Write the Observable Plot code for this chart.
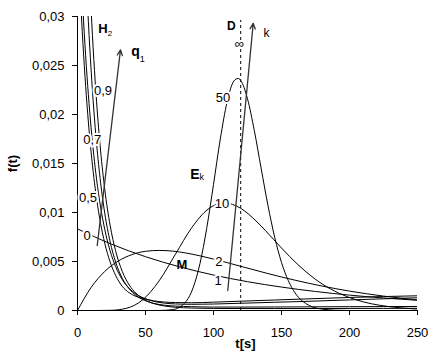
<!DOCTYPE html>
<html><head><meta charset="utf-8">
<script src="https://cdn.jsdelivr.net/npm/d3@7"></script>
<script src="https://cdn.jsdelivr.net/npm/@observablehq/plot@0.6"></script>
<style>html,body{margin:0;padding:0;background:#fff;} #chart svg{display:block}</style>
</head><body><div id="chart"></div>
<script>
// ---- axes ----
const xTicks = [0, 50, 100, 150, 200, 250];
const xTickLabels = ["0", "50", "100", "150", "200", "250"];
const yTicks = [0, 0.005, 0.01, 0.015, 0.02, 0.025, 0.03];
const yTickLabels = ["0", "0,005", "0,01", "0,015", "0,02", "0,025", "0,03"];

// ---- M = E1 = H2(q1=0) ----
const tExp = [0, 25, 50, 75, 100, 125, 150, 175, 200, 225, 250];
const fExp = [0.00833, 0.00677, 0.00549, 0.00446, 0.00362, 0.00294, 0.00239, 0.00194, 0.00157, 0.00128, 0.00104];

// ---- E2 ----
const tE2 = [0, 10, 20, 30, 40, 50, 60, 70, 80, 90, 100, 120, 140, 160, 180, 200, 225, 250];
const fE2 = [0, 0.00235, 0.00398, 0.00505, 0.0057, 0.00604, 0.00613, 0.00606, 0.00586, 0.00558, 0.00525, 0.00451, 0.00377, 0.00309, 0.00249, 0.00198, 0.00147, 0.00108];

// ---- E10 ----
const tE10 = [0, 12, 24, 36, 48, 60, 72, 84, 96, 108, 120, 132, 144, 156, 168, 180, 192, 204, 216, 228, 240, 250];
const fE10 = [0, 0, 0.000016, 0.000225, 0.0011, 0.00302, 0.00574, 0.00845, 0.01034, 0.01098, 0.01043, 0.00904, 0.00728, 0.0055, 0.00395, 0.0027, 0.00178, 0.00113, 0.00069, 0.00042, 0.00024, 0.00015];

// ---- E50 ----
const tE50 = [0, 50, 60, 70, 80, 85, 90, 95, 100, 105, 110, 115, 118, 120, 125, 130, 135, 140, 145, 150, 155, 160, 170, 180, 190, 200, 250];
const fE50 = [0, 0, 0.000003, 0.000089, 0.000955, 0.00232, 0.00476, 0.00838, 0.01286, 0.0175, 0.02129, 0.02342, 0.02368, 0.02347, 0.0216, 0.01837, 0.01453, 0.01075, 0.00747, 0.0049, 0.00305, 0.00179, 0.00054, 0.00014, 0.00003, 0, 0];

// ---- H2 family ----
const tH2 = [0, 2, 4, 6, 8, 10, 12, 14, 17, 20, 24, 28, 33, 38, 43, 49, 56, 64, 72, 84, 100, 120, 145, 168, 200, 250];
const fH2a = [0.03869, 0.03246, 0.02725, 0.02288, 0.01923, 0.01617, 0.0136, 0.01146, 0.00887, 0.00689, 0.00495, 0.00359, 0.00245, 0.00181, 0.00144, 0.0012, 0.00099, 0.00086, 0.00081, 0.00079, 0.00085, 0.00095, 0.00107, 0.00118, 0.00133, 0.0015];
const fH2b = [0.04294, 0.0363, 0.03071, 0.02599, 0.02201, 0.01865, 0.01582, 0.01343, 0.01054, 0.0083, 0.00608, 0.00449, 0.00314, 0.00226, 0.00168, 0.00125, 0.00094, 0.00075, 0.00067, 0.00063, 0.00066, 0.00074, 0.00084, 0.00093, 0.00108, 0.0013];
const fH2c = [0.06134, 0.05104, 0.04248, 0.03537, 0.02946, 0.02454, 0.02046, 0.01707, 0.01303, 0.00996, 0.00701, 0.00496, 0.00327, 0.00221, 0.00154, 0.00105, 0.00073, 0.00054, 0.00045, 0.00039, 0.00035, 0.00035, 0.00036, 0.00037, 0.00039, 0.00041];
const fH2d = [0.07676, 0.06389, 0.05319, 0.0443, 0.03689, 0.03073, 0.02561, 0.02136, 0.01627, 0.01241, 0.00868, 0.0061, 0.00396, 0.00261, 0.00176, 0.00114, 0.00071, 0.00046, 0.00033, 0.00025, 0.00021, 0.0002, 0.0002, 0.0002, 0.00021, 0.00022];

// ---- D (deterministic) ----
const dT = [120];
const dTop = [0.0296];

// ---- arrows (q1, k) ----
const arrowX1 = [14.5, 110.5];
const arrowY1 = [0.00663, 0.00204];
const arrowX2 = [31.6, 129.2];
const arrowY2 = [0.0266, 0.0293];

// ---- curve labels (white background) ----
const numText = ["0,9", "0,7", "0,5", "0", "10", "50", "\u221E", "2", "1"];
const numT = [18.7, 10.8, 7.7, 7.0, 106.3, 107.0, 119.1, 104.0, 103.3];
const numF = [0.02245, 0.01745, 0.01148, 0.00765, 0.01092, 0.02173, 0.0272, 0.0050, 0.00306];

// ---- bold labels ----
const boldText = ["H", "q", "E", "M", "D"];
const boldT = [18.75, 42.6, 86.4, 76.8, 113.2];
const boldF = [0.02874, 0.02643, 0.01385, 0.00469, 0.02898];
const boldSize = [13, 14, 14, 13, 12];

// ---- subscripts / plain small labels ----
const subText = ["2", "1", "k", "k"];
const subT = [23.9, 47.6, 91.4, 139.0];
const subF = [0.02832, 0.02566, 0.01362, 0.02827];
const subSize = [8, 9, 9, 12];

// ---- axis titles ----
const titleText = ["f(t)", "t[s]"];
const titleT = [-47.4, 123.5];
const titleF = [0.015, -0.00337];
const titleRotate = [-90, 0];

const pts = (ts, fs) => ts.map((t, i) => ({t, f: fs[i]}));
const line = (ts, fs) => Plot.line(pts(ts, fs), {x: "t", y: "f", curve: "monotone-x", stroke: "black", strokeWidth: 1, clip: true});

const numLabels = numText.map((s, i) => ({s, t: numT[i], f: numF[i]}));
const boldLabels = boldText.map((s, i) => ({s, t: boldT[i], f: boldF[i], z: boldSize[i]}));
const subLabels = subText.map((s, i) => ({s, t: subT[i], f: subF[i], z: subSize[i]}));
const titles = titleText.map((s, i) => ({s, t: titleT[i], f: titleF[i], r: titleRotate[i]}));
const arrows = arrowX1.map((x1, i) => ({x1, y1: arrowY1[i], x2: arrowX2[i], y2: arrowY2[i]}));

const chart = Plot.plot({
  width: 436,
  height: 361,
  marginLeft: 77,
  marginRight: 19,
  marginTop: 16,
  marginBottom: 51,
  style: {fontFamily: "'Liberation Sans', Arial, sans-serif", fontSize: "13px", color: "black", background: "white", overflow: "visible"},
  x: {domain: [0, 250], ticks: xTicks, tickFormat: d => xTickLabels[xTicks.indexOf(d)] ?? String(d), tickSize: 5, tickPadding: 12, label: null},
  y: {domain: [0, 0.03], ticks: yTicks, tickFormat: d => yTickLabels[yTicks.indexOf(d)] ?? String(d), tickSize: 5, tickPadding: 8, label: null},
  marks: [
    line(tExp, fExp),
    line(tE2, fE2),
    line(tE10, fE10),
    line(tE50, fE50),
    line(tH2, fH2a),
    line(tH2, fH2b),
    line(tH2, fH2c),
    line(tH2, fH2d),
    Plot.ruleX(dT.map((t, i) => ({t, top: dTop[i]})), {x: "t", y1: 0, y2: "top", stroke: "black", strokeWidth: 1, strokeDasharray: "3,3"}),
    Plot.ruleY([0], {stroke: "black"}),
    Plot.ruleX([0], {stroke: "black"}),
    Plot.arrow(arrows, {x1: "x1", y1: "y1", x2: "x2", y2: "y2", stroke: "#333", strokeWidth: 1.3, headLength: 7, headAngle: 50}),
    Plot.text(numLabels, {x: "t", y: "f", text: "s", fontSize: 13, fill: "black", stroke: "white", strokeWidth: 4}),
    Plot.text(boldLabels, {x: "t", y: "f", text: "s", fontSize: d => d.z, fontWeight: "bold", fill: "black"}),
    Plot.text(subLabels, {x: "t", y: "f", text: "s", fontSize: d => d.z, fill: "black"}),
    Plot.text(titles, {x: "t", y: "f", text: "s", rotate: d => d.r, fontSize: 13, fontWeight: "bold", fill: "black"})
  ]
});
document.getElementById("chart").appendChild(chart);
</script></body></html>
